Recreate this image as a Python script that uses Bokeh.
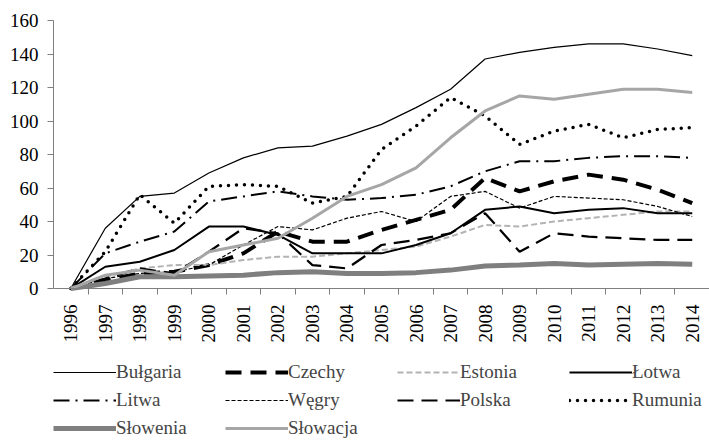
import math
from bokeh.plotting import figure
from bokeh.models import FixedTicker, Legend, LegendItem, Range1d
from bokeh.embed import file_html
from bokeh.resources import INLINE

years = list(range(1996, 2015))

bulgaria = [0, 36, 55, 57, 69, 78, 84, 85, 91, 98, 108, 119, 137, 141, 144, 146, 146, 143, 139]
czechy = [0, 5, 9, 10, 14, 21, 34, 28, 28, 35, 41, 47, 66, 58, 64, 68, 65, 59, 51]
estonia = [0, 7, 12, 14, 14, 17, 19, 19, 21, 23, 25, 31, 38, 37, 40, 42, 44, 46, 46]
lotwa = [0, 13, 16, 23, 37, 37, 32, 21, 21, 21, 26, 33, 47, 49, 45, 47, 48, 45, 45]
litwa = [0, 21, 28, 34, 52, 55, 58, 55, 53, 54, 56, 61, 70, 76, 76, 78, 79, 79, 78]
wegry = [0, 6, 9, 10, 14, 26, 37, 35, 42, 46, 40, 55, 58, 48, 55, 54, 53, 49, 43]
polska = [0, 6, 12, 9, 22, 36, 33, 14, 12, 26, 29, 33, 45, 22, 33, 31, 30, 29, 29]
rumunia = [0, 22, 56, 39, 61, 62, 61, 51, 55, 83, 97, 114, 103, 86, 94, 98, 90, 95, 96]
slowenia = [0, 3, 7, 7, 7.5, 8, 9.5, 10, 9, 9, 9.5, 11, 13.5, 14, 15, 14, 14.5, 15, 14.5]
slowacja = [0, 8, 11, 8, 22, 26, 30, 42, 55, 62, 72, 90, 106, 115, 113, 116, 119, 119, 117]

y_ticks = [0, 20, 40, 60, 80, 100, 120, 140, 160]

FONT = "Liberation Serif"

# frame extends below the x axis (drawn at y=0) so that the legend fits inside it
p = figure(frame_width=656, frame_height=422, output_backend="svg", toolbar_location=None,
           x_range=Range1d(1995.5, 2014.5), y_range=Range1d(-91.9, 160),
           min_border_left=53, min_border_right=0, min_border_top=20,
           min_border_bottom=0)
p.outline_line_color = None
p.grid.visible = False

series = [
    ("Bułgaria", bulgaria, dict(line_color="black", line_width=1.2)),
    ("Czechy", czechy, dict(line_color="black", line_width=4, line_dash="16 9")),
    ("Estonia", estonia, dict(line_color="#b3b3b3", line_width=2, line_dash="6 3")),
    ("Łotwa", lotwa, dict(line_color="black", line_width=2)),
    ("Litwa", litwa, dict(line_color="black", line_width=2, line_dash="16 6 2 6")),
    ("Węgry", wegry, dict(line_color="black", line_width=1.2, line_dash="4 2")),
    ("Polska", polska, dict(line_color="black", line_width=2.2, line_dash="16 8")),
    ("Rumunia", rumunia, dict(line_color="black", line_width=3.5, line_dash="0 8", line_cap="round")),
    ("Słowenia", slowenia, dict(line_color="#7f7f7f", line_width=5)),
    ("Słowacja", slowacja, dict(line_color="#a6a6a6", line_width=3)),
]

items = []
for name, vals, style in series:
    r = p.line(years, vals, **style)
    items.append(LegendItem(label=name, renderers=[r]))

xa = p.xaxis[0]
xa.fixed_location = 0
xa.ticker = FixedTicker(ticks=years, minor_ticks=[y + 0.5 for y in years[:-1]])
xa.major_tick_out = 0
xa.major_tick_in = 0
xa.minor_tick_out = 6
xa.minor_tick_in = 0
xa.minor_tick_line_color = "#7f7f7f"
xa.axis_line_color = "#7f7f7f"
xa.major_label_orientation = math.pi / 2
xa.major_label_text_font = FONT
xa.major_label_text_font_size = "19px"
xa.major_label_text_color = "black"
xa.major_label_standoff = 10

ya = p.yaxis[0]
ya.bounds = (0, 160)
ya.ticker = FixedTicker(ticks=y_ticks)
ya.major_tick_out = 6
ya.major_tick_in = 0
ya.minor_tick_out = 0
ya.minor_tick_in = 0
ya.major_tick_line_color = "#7f7f7f"
ya.axis_line_color = "#7f7f7f"
ya.major_label_text_font = FONT
ya.major_label_text_font_size = "19px"
ya.major_label_text_color = "black"
ya.major_label_standoff = 9

rows = [items[0:4], items[4:8], items[8:10]]
for i, row in enumerate(rows):
    lg = Legend(items=row, orientation="horizontal",
                label_text_font=FONT, label_text_font_size="19px",
                glyph_width=63, glyph_height=20, label_width=101, label_height=28,
                label_standoff=0, spacing=8, padding=0, margin=0,
                border_line_color=None, background_fill_alpha=0,
                location=(0, 56 - 28 * i))
    p.add_layout(lg, "center")

open("out.html", "w").write(file_html(p, INLINE))
